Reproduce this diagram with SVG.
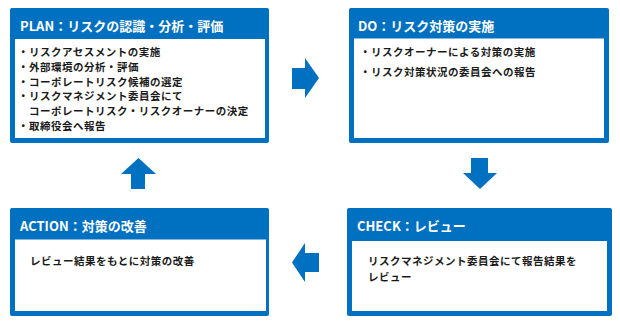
<svg xmlns="http://www.w3.org/2000/svg" width="620" height="325" viewBox="0 0 620 325">
<style>
.frame{fill:#0070c0}
.inner{fill:#ffffff}
.title{font-family:"Noto Sans CJK JP","Noto Sans",sans-serif;font-size:13px;font-weight:700;fill:#ffffff}
.body{font-family:"Noto Sans CJK JP","Noto Sans",sans-serif;font-size:10.5px;letter-spacing:0.5px;font-weight:700;fill:#1a1a1a}
.arrow{fill:#0070c0}
</style>
<rect width="620" height="325" fill="#ffffff"/>
<g id="plan">
<rect class="frame" x="10" y="8" width="259" height="135" rx="2"/>
<rect class="inner" x="15" y="39" width="250" height="99"/>
<text class="title" x="20" y="30.5">PLAN：リスクの認識・分析・評価</text>
<text class="body" x="18" y="56">・リスクアセスメントの実施</text>
<text class="body" x="18" y="70.8">・外部環境の分析・評価</text>
<text class="body" x="18" y="85.6">・コーポレートリスク候補の選定</text>
<text class="body" x="18" y="100.4">・リスクマネジメント委員会にて</text>
<text class="body" x="29" y="115.2">コーポレートリスク・リスクオーナーの決定</text>
<text class="body" x="18" y="130">・取締役会へ報告</text>
</g>
<g id="do">
<rect class="frame" x="349" y="8" width="260" height="135" rx="2"/>
<rect class="inner" x="354" y="38.5" width="250" height="99.5"/>
<text class="title" x="358" y="30.5">DO：リスク対策の実施</text>
<text class="body" x="360" y="56">・リスクオーナーによる対策の実施</text>
<text class="body" x="360" y="75.5">・リスク対策状況の委員会への報告</text>
</g>
<g id="check">
<rect class="frame" x="347" y="208" width="265" height="108" rx="2"/>
<rect class="inner" x="352" y="241" width="255" height="70"/>
<text class="title" x="357" y="230.5">CHECK：レビュー</text>
<text class="body" x="368" y="265">リスクマネジメント委員会にて報告結果を</text>
<text class="body" x="368" y="281">レビュー</text>
</g>
<g id="action">
<rect class="frame" x="10" y="208" width="259" height="108" rx="2"/>
<rect class="inner" x="15" y="239.5" width="251" height="71.5"/>
<text class="title" x="20" y="230.5">ACTION：対策の改善</text>
<text class="body" x="30" y="265">レビュー結果をもとに対策の改善</text>
</g>
<g id="connectors">
<polygon class="arrow" points="292,68 305,68 305,58 319,78 305,98 305,89 292,89"/>
<polygon class="arrow" points="471,158 488,158 488,173 497,173 480,189 463,173 471,173"/>
<polygon class="arrow" points="319,253 305,253 305,243 292,262.5 305,282 305,272 319,272"/>
<polygon class="arrow" points="138.5,158 156,174 145,174 145,189 131,189 131,174 121,174"/>
</g>
</svg>
